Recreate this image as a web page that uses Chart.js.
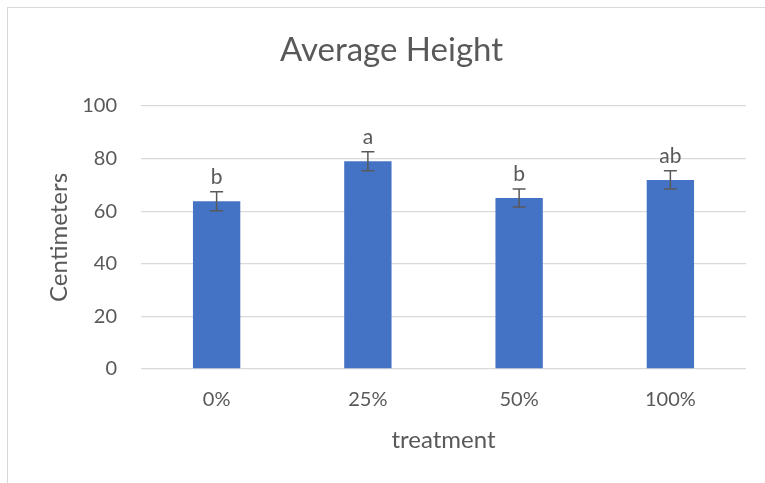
<!DOCTYPE html>
<html>
<head>
<meta charset="utf-8">
<script src="https://cdn.jsdelivr.net/npm/chart.js@4"></script>
<style>
    body { margin: 0; background: #fff; }
    #wrap { position: relative; width: 765px; height: 483px; }
    #frame { position: absolute; left: 7px; top: 7px; width: 770px; height: 490px;
             border-left: 1px solid #d9d9d9; border-top: 1px solid #d9d9d9; }
    #heightChart { position: absolute; left: 0; top: 0; }
</style>
</head>
<body>
<div id="wrap">
    <div id="frame"></div>
    <canvas id="heightChart" width="765" height="483"></canvas>
</div>
<script>
var chartTitle = 'Average Height';
var treatments = ['0%', '25%', '50%', '100%'];
var avgHeight = [63.8, 79.0, 65.0, 71.9];
var stdErr = [3.6, 3.6, 3.45, 3.5];
var groupLetters = ['b', 'a', 'b', 'ab'];
var yTicks = [0, 20, 40, 60, 80, 100];

var textColor = '#595959';
var fontName = 'Lato, "Open Sans", sans-serif';

// error bars and significance letters on top of each bar
var errorBarPlugin = {
    id: 'errorBars',
    afterDatasetsDraw: function (chart) {
        var c = chart.ctx;
        var y = chart.scales.y;
        var meta = chart.getDatasetMeta(0);
        c.save();
        c.strokeStyle = '#595959';
        c.lineWidth = 1.5;
        meta.data.forEach(function (bar, i) {
            var top = y.getPixelForValue(avgHeight[i] + stdErr[i]);
            var bottom = y.getPixelForValue(avgHeight[i] - stdErr[i]);
            var x = bar.x;
            c.beginPath();
            c.moveTo(x, top); c.lineTo(x, bottom);
            c.moveTo(x - 6.5, top); c.lineTo(x + 6.5, top);
            c.moveTo(x - 6.5, bottom); c.lineTo(x + 6.5, bottom);
            c.stroke();

            c.fillStyle = textColor;
            c.font = '21px ' + fontName;
            c.textAlign = 'center';
            c.textBaseline = 'alphabetic';
            c.fillText(groupLetters[i], x, top - 8);
        });
        c.restore();
    }
};

// title is centred on the whole (cropped) chart frame, not the canvas
var titlePlugin = {
    id: 'frameTitle',
    afterDraw: function (chart) {
        var c = chart.ctx;
        c.save();
        c.fillStyle = textColor;
        c.font = '33px ' + fontName;
        c.textAlign = 'center';
        c.textBaseline = 'alphabetic';
        c.fillText(chartTitle, 391.5, 61);
        c.restore();
    }
};

var ctx = document.getElementById('heightChart').getContext('2d');
var chart = new Chart(ctx, {
    type: 'bar',
    data: {
        labels: treatments,
        datasets: [{
            label: chartTitle,
            data: avgHeight,
            backgroundColor: '#4472C4',
            borderWidth: 0,
            barPercentage: 0.313,
            categoryPercentage: 1.0
        }]
    },
    options: {
        responsive: false,
        animation: false,
        devicePixelRatio: 1,
        layout: {
            padding: { left: 0, right: 19, top: 106, bottom: 0 }
        },
        plugins: {
            legend: { display: false },
            tooltip: { enabled: false },
            title: { display: false }
        },
        scales: {
            x: {
                grid: { display: false, drawTicks: false },
                border: { display: false },
                ticks: {
                    color: textColor,
                    font: { family: fontName, size: 20 },
                    padding: 19
                },
                title: {
                    display: true,
                    text: 'treatment',
                    color: textColor,
                    font: { family: fontName, size: 24 },
                    padding: { top: 0, bottom: 28.6 }
                },
                afterFit: function (scale) { scale.height = 483 - 369; }
            },
            y: {
                min: 0,
                max: 100,
                afterBuildTicks: function (scale) {
                    scale.ticks = yTicks.map(function (v) { return { value: v }; });
                },
                grid: { color: '#d9d9d9', lineWidth: 1.3, drawTicks: false },
                border: { display: false },
                ticks: {
                    color: textColor,
                    font: { family: fontName, size: 20 },
                    padding: 24
                },
                title: {
                    display: true,
                    text: 'Centimeters',
                    color: textColor,
                    font: { family: fontName, size: 24 },
                    padding: { top: 44.6, bottom: 0 }
                },
                afterFit: function (scale) { scale.width = 141; }
            }
        }
    },
    plugins: [errorBarPlugin, titlePlugin]
});
</script>
</body>
</html>
